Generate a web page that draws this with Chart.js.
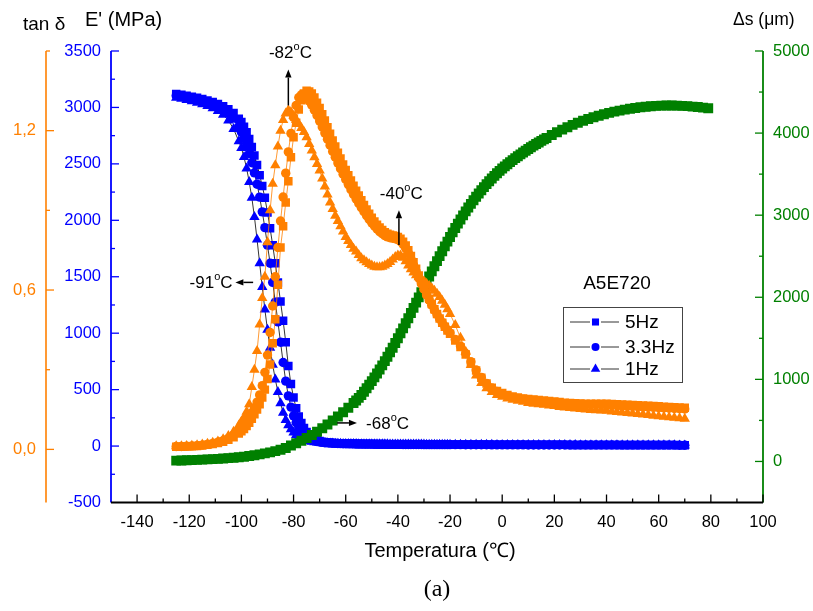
<!DOCTYPE html>
<html><head><meta charset="utf-8">
<script src="https://cdn.jsdelivr.net/npm/chart.js@4.4.0/dist/chart.umd.min.js"></script>
<style>html,body{margin:0;padding:0;background:#fff}#wrap{position:relative;width:813px;height:611px}</style>
</head><body><div id="wrap"><canvas id="c" width="813" height="611"></canvas></div>
<script>
// ---------- DATA ----------
const temps = [-125,-123,-121,-119,-117,-115,-113,-111,-109,-107,-105,-103,-101,
-100,-99,-98,-97,-96,-95,-94,-93,-92,-91,-90,-89,-88,-87,-86,-85,-84,-83,-82,-81,-80,-79,-78,-77,-76,-75,-74,-73,-72,-71,-70,-69,-68,-67,-66,-65,-64,-63,-62,-61,-60,-59,-58,-57,-56,-55,-54,-53,-52,-51,-50,-49,-48,-47,-46,-45,-44,-43,-42,-41,-40,-39,-38,-37,-36,-35,-34,-33,-32,-31,-30,-29,-28,-27,-26,-25,-24,-23,-22,-21,-20,
-18,-16,-14,-12,-10,-8,-6,-4,-2,0,2,4,6,8,10,12,14,16,18,20,22,24,26,28,30,32,34,36,38,40,42,44,46,48,50,52,54,56,58,60,62,64,66,68,70];

const modulus5Hz = [3120,3112,3104,3095,3085,3074,3062,3048,3030,3010,2985,2950,2900,
2870,2830,2780,2720,2650,2575,2490,2400,2305,2200,2070,1930,1780,1620,1450,1280,1110,920,710,550,430,335,262,205,160,125,98,78,63,52,44,38,34,31,29,27,25,24,23,22,21,
20,20,20,19,19,19,18,18,18,18,17,17,17,17,17,16,16,16,16,16,16,15,15,15,15,15,15,15,15,14,14,14,14,14,14,14,14,14,14,14,
14,14,13,13,13,13,13,12,12,12,12,12,12,12,11,11,11,11,11,11,11,11,10,10,10,10,10,10,10,10,10,10,9,9,9,9,9,9,9,9,9,9,9,8,8];

const modulus3Hz = [3105,3097,3088,3078,3067,3055,3041,3025,3005,2980,2950,2905,2830,
2780,2725,2660,2590,2510,2420,2320,2205,2075,1935,1780,1620,1450,1275,1100,920,740,575,445,345,268,208,163,128,101,81,66,55,47,41,36,33,30,28,26,25,24,23,22,21,21,
19,19,19,18,18,18,17,17,17,17,16,16,16,16,16,15,15,15,15,15,15,14,14,14,14,14,14,14,14,13,13,13,13,13,13,13,13,13,13,13,
13,13,12,12,12,12,12,11,11,11,11,11,11,11,10,10,10,10,10,10,10,10,9,9,9,9,9,9,9,9,9,9,8,8,8,8,8,8,8,8,8,8,8,7,7];

const modulus1Hz = [3085,3076,3066,3055,3042,3028,3012,2993,2968,2935,2885,2810,2700,
2640,2560,2460,2340,2200,2030,1830,1620,1410,1210,1030,870,720,590,480,380,295,232,185,150,120,97,80,67,57,49,43,38,34,31,29,27,25,24,23,22,21,20,20,19,19,
19,18,18,18,17,17,17,16,16,16,16,15,15,15,15,15,14,14,14,14,14,14,13,13,13,13,13,13,13,13,12,12,12,12,12,12,12,12,12,12,
12,12,11,11,11,11,11,11,10,10,10,10,10,10,10,10,9,9,9,9,9,9,9,9,8,8,8,8,8,8,8,8,8,8,7,7,7,7,7,7,7,7,7,6,6];

const tanDelta5Hz = [0.010,0.010,0.011,0.012,0.013,0.015,0.017,0.020,0.024,0.029,0.036,0.046,0.060,
0.068,0.077,0.088,0.100,0.115,0.132,0.150,0.170,0.195,0.225,
0.265,0.320,0.400,0.490,0.620,0.760,0.840,0.930,1.010,1.100,
1.175,1.230,1.280,1.315,1.340,1.350,1.348,1.340,1.325,1.305,
1.285,1.262,1.238,1.213,1.188,1.163,1.140,1.117,1.095,1.073,
1.052,1.032,1.012,0.993,0.974,0.956,0.938,0.920,0.903,0.887,
0.872,0.858,0.846,0.835,0.826,0.818,0.812,0.808,0.805,0.803,
0.800,0.793,0.782,0.768,0.750,0.728,0.705,0.680,0.655,0.632,
0.610,0.588,0.567,0.547,0.528,0.510,0.493,0.477,0.462,0.448,
0.435,
0.410,0.385,0.357,0.327,0.297,0.270,0.248,0.232,0.220,0.212,
0.205,0.199,0.195,0.192,0.190,0.188,0.186,0.184,0.182,0.180,
0.178,0.176,0.175,0.174,0.173,0.172,0.172,0.172,0.172,0.172,
0.171,0.170,0.169,0.168,0.167,0.166,0.165,0.164,0.163,0.162,
0.161,0.160,0.159,0.158,0.157];

const tanDelta3Hz = [0.011,0.011,0.012,0.013,0.014,0.016,0.019,0.022,0.027,0.033,0.042,0.055,0.072,
0.082,0.093,0.106,0.121,0.138,0.157,0.178,0.205,0.240,0.290,
0.355,0.440,0.540,0.650,0.760,0.860,0.950,1.040,1.120,1.190,
1.250,1.295,1.325,1.335,1.333,1.325,1.312,1.296,1.277,1.257,
1.236,1.214,1.191,1.168,1.145,1.122,1.100,1.078,1.057,1.036,
1.016,0.997,0.978,0.960,0.943,0.926,0.910,0.895,0.880,0.866,
0.853,0.841,0.830,0.820,0.812,0.805,0.800,0.797,0.795,0.793,
0.790,0.783,0.772,0.757,0.739,0.717,0.694,0.670,0.646,0.624,
0.603,0.582,0.562,0.543,0.525,0.508,0.492,0.477,0.463,0.450,
0.438,
0.414,0.389,0.361,0.330,0.299,0.271,0.248,0.231,0.218,0.209,
0.202,0.196,0.192,0.189,0.186,0.184,0.182,0.180,0.178,0.176,
0.174,0.172,0.171,0.170,0.169,0.168,0.168,0.168,0.168,0.167,
0.166,0.165,0.164,0.163,0.162,0.161,0.160,0.159,0.158,0.157,
0.156,0.155,0.154,0.153,0.152];

const tanDelta1Hz = [0.012,0.012,0.013,0.014,0.016,0.018,0.021,0.025,0.030,0.038,0.050,0.066,0.090,
0.105,0.120,0.142,0.170,0.235,0.300,0.370,0.470,0.570,0.650,
0.780,0.900,1.000,1.070,1.140,1.200,1.240,1.265,1.277,1.270,
1.255,1.240,1.225,1.210,1.195,1.175,1.150,1.125,1.100,1.075,
1.050,1.020,0.990,0.960,0.930,0.905,0.880,0.860,0.840,0.820,
0.800,0.785,0.770,0.755,0.745,0.732,0.720,0.712,0.705,0.698,
0.692,0.688,0.686,0.686,0.688,0.692,0.698,0.706,0.715,0.724,
0.730,0.730,0.722,0.708,0.692,0.678,0.666,0.656,0.648,0.640,
0.632,0.624,0.616,0.607,0.597,0.586,0.574,0.560,0.545,0.528,
0.510,
0.468,0.420,0.368,0.318,0.278,0.250,0.230,0.216,0.205,0.198,
0.192,0.187,0.183,0.179,0.175,0.172,0.170,0.168,0.165,0.163,
0.160,0.158,0.156,0.154,0.152,0.150,0.148,0.147,0.146,0.145,
0.143,0.141,0.139,0.137,0.135,0.133,0.131,0.129,0.127,0.125,
0.123,0.121,0.119,0.117,0.115];

const tempsDisp = [-125,-123,-121,-119,-117,-115,-113,-111,-109,-107,-105,-103,-101,-99,-97,-95,-93,-91,-89,-87,
-85,-83,-81,-79,-77,-75,-73,-71,-69,-67,-65,-63,-61,-59,-57,
-56,-55,-54,-53,-52,-51,-50,-49,-48,-47,-46,-45,-44,-43,-42,-41,-40,-39,-38,-37,-36,-35,-34,-33,-32,-31,-30,-29,-28,-27,-26,-25,-24,-23,-22,-21,-20,-19,-18,-17,-16,-15,-14,-13,-12,-11,-10,-9,-8,-7,-6,-5,-4,-3,-2,-1,0,1,2,3,4,5,6,7,8,9,10,11,12,13,14,15,16,
17,19,21,23,25,27,29,31,33,35,37,39,41,43,45,47,49,51,53,55,57,59,61,63,65,67,69,71,73,75,77,79];
const displacement = [10,12,14,16,19,22,25,28,32,36,40,45,51,58,66,75,86,98,111,126,
143,164,195,222,252,285,322,362,405,450,498,548,600,655,712,
742,775,810,850,891,934,978,1024,1071,1120,1170,1222,1275,1330,1386,1443,1501,1561,1621,1683,1745,1808,1871,1935,1999,2063,2126,2190,2253,2316,2378,2440,2501,2561,2620,2678,2735,2790,2844,2897,2948,2998,3046,3093,3138,3182,3224,3265,3304,3342,3378,3413,3447,3479,3510,3540,3568,3595,3621,3646,3671,3695,3718,3741,3763,3785,3806,3827,3847,3867,3886,3905,3923,
3941,3976,4010,4042,4072,4100,4126,4150,4172,4193,4212,4230,4246,4261,4274,4286,4297,4306,4314,4321,4327,4331,4334,4336,4336,4335,4332,4328,4323,4317,4310,4302];

const xTickValues = [-150,-140,-130,-120,-110,-100,-90,-80,-70,-60,-50,-40,-30,-20,-10,0,10,20,30,40,50,60,70,80,90,100];
const modTickValues = [-500,-250,0,250,500,750,1000,1250,1500,1750,2000,2250,2500,2750,3000,3250,3500];
const tanTickValues = [0,0.3,0.6,0.9,1.2,1.5];
const dispTickValues = [0,500,1000,1500,2000,2500,3000,3500,4000,4500,5000];
const seriesLabels = ['5Hz','3.3Hz','1Hz'];
// arrows: from (T0,v0) to (T1,v1), label anchored at (TL,vL)
const annotations = [
  {text:'-82', axis:'yTan', T0:-82, v0:1.295, T1:-82, v1:1.43, TL:-81.2, vL:1.495, align:'center'},
  {text:'-40', axis:'yTan', T0:-39.6, v0:0.77, T1:-39.6, v1:0.90, TL:-38.7, vL:0.965, align:'center'},
  {text:'-91', axis:'yE', T0:-95.5, v0:1450, T1:-102.3, v1:1450, TL:-103.4, vL:1450, align:'right'},
  {text:'-68', axis:'yE', T0:-63.3, v0:205, T1:-55.7, v1:205, TL:-52.2, vL:205, align:'left'}
];

// ---------- STYLE ----------
const BLUE='#0000FF', ORANGE='#FF8000', GREEN='#008000';
const FONT='"Liberation Sans", Arial, Helvetica, sans-serif';

function mk(label, xs, ys, axis, color, lineColor, style, r, order){
  return {label, data: xs.map((x,i)=>({x, y: ys[i]})), yAxisID: axis, showLine: true,
    borderColor: lineColor, borderWidth: 0.8, backgroundColor: color,
    pointBackgroundColor: color, pointBorderColor: color, pointBorderWidth: 0,
    pointStyle: style, pointRadius: r, pointHoverRadius: r, order, tension: 0};
}

const datasets = [
  mk('E 5Hz', temps, modulus5Hz, 'yE', BLUE, '#000', 'rect', 6, 30),
  mk('E 3.3Hz', temps, modulus3Hz, 'yE', BLUE, '#000', 'circle', 4.7, 31),
  mk('E 1Hz', temps, modulus1Hz, 'yE', BLUE, '#000', 'triangle', 6, 32),
  mk('tan 5Hz', temps, tanDelta5Hz, 'yTan', ORANGE, ORANGE, 'rect', 6, 10),
  mk('tan 3.3Hz', temps, tanDelta3Hz, 'yTan', ORANGE, ORANGE, 'circle', 4.7, 11),
  mk('tan 1Hz', temps, tanDelta1Hz, 'yTan', ORANGE, ORANGE, 'triangle', 6, 12),
  mk('ds', tempsDisp, displacement, 'yS', GREEN, GREEN, 'rect', 7, 20)
];

function setTicks(list){ return function(scale){ scale.ticks = list.map(v=>({value:v})); }; }

function drawSupTemp(ctx, num, x, y, align){
  ctx.font = '17px '+FONT; const w1 = ctx.measureText(num).width; const w3 = ctx.measureText('C').width;
  ctx.font = '11px '+FONT; const w2 = ctx.measureText('o').width;
  const tot = w1+w2+w3;
  let x0 = align==='center' ? x - tot/2 : (align==='right' ? x - tot : x);
  ctx.fillStyle='#000'; ctx.textAlign='left'; ctx.textBaseline='alphabetic';
  const base = y + 6;
  ctx.font = '17px '+FONT; ctx.fillText(num, x0, base);
  ctx.font = '11px '+FONT; ctx.fillText('o', x0+w1, base-8);
  ctx.font = '17px '+FONT; ctx.fillText('C', x0+w1+w2, base);
}
function arrow(ctx, x0, y0, x1, y1){
  ctx.strokeStyle='#000'; ctx.fillStyle='#000'; ctx.lineWidth=1.5;
  const ang = Math.atan2(y1-y0, x1-x0); const hl=8, hw=3.2;
  const bx = x1 - hl*Math.cos(ang), by = y1 - hl*Math.sin(ang);
  ctx.beginPath(); ctx.moveTo(x0,y0); ctx.lineTo(bx,by); ctx.stroke();
  ctx.beginPath(); ctx.moveTo(x1,y1);
  ctx.lineTo(bx - hw*Math.sin(ang), by + hw*Math.cos(ang));
  ctx.lineTo(bx + hw*Math.sin(ang), by - hw*Math.cos(ang));
  ctx.closePath(); ctx.fill();
}
function marker(ctx, style, x, y, r){
  ctx.beginPath();
  if(style==='rect'){ const s=r*Math.SQRT1_2; ctx.rect(x-s,y-s,2*s,2*s); }
  else if(style==='circle'){ ctx.arc(x,y,r,0,Math.PI*2); }
  else { ctx.moveTo(x, y-r); ctx.lineTo(x+r*0.866, y+r*0.5); ctx.lineTo(x-r*0.866, y+r*0.5); ctx.closePath(); }
  ctx.fill();
}

const decor = {
  id:'decor',
  afterDraw(chart){
    const ctx = chart.ctx, ca = chart.chartArea, s = chart.scales;
    ctx.save();
    const line=(x1,y1,x2,y2,c,w)=>{ctx.strokeStyle=c;ctx.lineWidth=w;ctx.beginPath();ctx.moveTo(x1,y1);ctx.lineTo(x2,y2);ctx.stroke();};
    const tanX = s.yTan.right;
    line(tanX, ca.top, tanX, ca.bottom, ORANGE, 1.6);
    line(ca.left, ca.top, ca.left, ca.bottom, BLUE, 1.8);
    line(ca.right, ca.top, ca.right, ca.bottom, GREEN, 1.8);
    line(ca.left, ca.bottom, ca.right, ca.bottom, '#000', 1.8);
    xTickValues.forEach(v=>{ if(v===-150) return; const p=s.x.getPixelForValue(v); const L=(v%20===0)?8:4; line(p,ca.bottom,p,ca.bottom-L,'#000',1.3); });
    modTickValues.forEach(v=>{ if(v===-500) return; const p=s.yE.getPixelForValue(v); const L=(v%500===0)?8:4; line(ca.left,p,ca.left+L,p,BLUE,1.3); });
    tanTickValues.forEach(v=>{ const p=s.yTan.getPixelForValue(v); const L=(Math.round(v*10)%6===0)?8:4; line(tanX,p,tanX+L,p,ORANGE,1.3); });
    dispTickValues.forEach(v=>{ const p=s.yS.getPixelForValue(v); const L=(v%1000===0)?8:4; line(ca.right,p,ca.right-L,p,GREEN,1.3); });
    ctx.fillStyle='#000'; ctx.textBaseline='middle'; ctx.textAlign='left';
    ctx.font='19px '+FONT; ctx.fillText('tan \u03B4', 23, 25);
    ctx.font='20px '+FONT; ctx.fillText("E' (MPa)", 85, 20);
    ctx.font='17.5px '+FONT; ctx.fillText('\u0394s (\u03BCm)', 733, 20);
    ctx.textAlign='center';
    ctx.font='20px '+FONT;
    ctx.fillText('Temperatura (\u2103)', (ca.left+ca.right)/2 + 3, 551);
    ctx.font='24px "Liberation Serif", "Times New Roman", serif';
    ctx.fillText('(a)', (ca.left+ca.right)/2, 590);
    ctx.font='19px '+FONT; ctx.textAlign='center';
    ctx.fillText('A5E720', 617, 284);
    ctx.strokeStyle='#444'; ctx.lineWidth=1; ctx.strokeRect(563.5,307.5,119,75);
    const rows=[{y:322,st:'rect',r:5},{y:347,st:'circle',r:4},{y:369,st:'triangle',r:5.5}];
    rows.forEach((row,i)=>{
      line(570,row.y,590,row.y,'#333',1); line(601,row.y,619,row.y,'#333',1);
      ctx.fillStyle=BLUE; marker(ctx,row.st,595.5,row.y,row.r);
      ctx.fillStyle='#000'; ctx.font='19px '+FONT; ctx.textAlign='left'; ctx.textBaseline='middle';
      ctx.fillText(seriesLabels[i], 625, row.y+1);
    });
    annotations.forEach(a=>{
      const sc = s[a.axis];
      arrow(ctx, s.x.getPixelForValue(a.T0), sc.getPixelForValue(a.v0), s.x.getPixelForValue(a.T1), sc.getPixelForValue(a.v1));
      drawSupTemp(ctx, a.text, s.x.getPixelForValue(a.TL), sc.getPixelForValue(a.vL), a.align);
    });
    ctx.restore();
  }
};

new Chart(document.getElementById('c'), {
  type:'scatter',
  data:{datasets},
  options:{
    responsive:false, animation:false, devicePixelRatio:1, events:[],
    layout:{padding:{top:51,left:0,right:0,bottom:0}},
    plugins:{legend:{display:false}, tooltip:{enabled:false}},
    scales:{
      x:{type:'linear', position:'bottom', min:-150, max:100,
        afterBuildTicks:setTicks(xTickValues), afterFit:(sc)=>{sc.height=108.5;},
        grid:{display:false, drawTicks:false}, border:{display:false},
        ticks:{color:'#000', font:{family:FONT,size:16.5}, padding:10, maxRotation:0, autoSkip:false,
          callback:(v)=> (v%20===0 ? String(v) : '')}},
      yE:{type:'linear', position:'left', weight:0, min:-500, max:3500,
        afterBuildTicks:setTicks(modTickValues), afterFit:(sc)=>{sc.width=65;},
        grid:{display:false, drawTicks:false}, border:{display:false},
        ticks:{color:BLUE, font:{family:FONT,size:16.5}, padding:10, autoSkip:false,
          callback:(v)=> (v%500===0 ? String(v) : '')}},
      yTan:{type:'linear', position:'left', weight:1, min:-0.2, max:1.5,
        afterBuildTicks:setTicks(tanTickValues), afterFit:(sc)=>{sc.width=46;},
        grid:{display:false, drawTicks:false}, border:{display:false},
        ticks:{color:ORANGE, font:{family:FONT,size:16.5}, padding:10, autoSkip:false,
          callback:(v)=>{const k=Math.round(v*10); return k%6===0 ? (k/10).toFixed(1).replace('.',',') : '';}}},
      yS:{type:'linear', position:'right', min:-500, max:5000,
        afterBuildTicks:setTicks(dispTickValues), afterFit:(sc)=>{sc.width=50;},
        grid:{display:false, drawTicks:false}, border:{display:false},
        ticks:{color:GREEN, font:{family:FONT,size:16.5}, padding:10, autoSkip:false,
          callback:(v)=> (v%1000===0 ? String(v) : '')}}
    }
  },
  plugins:[decor]
});
</script></body></html>
